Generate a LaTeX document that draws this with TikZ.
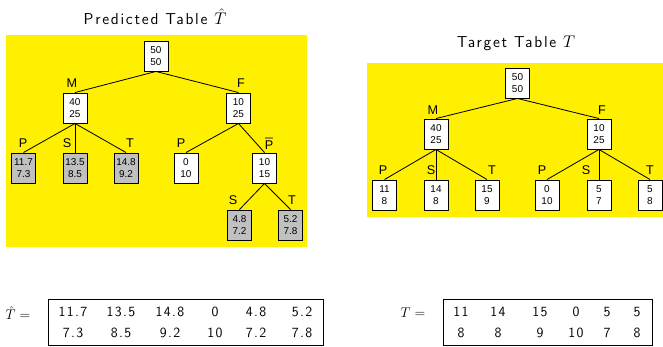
\documentclass[tikz,border=0pt]{standalone}
\usepackage{fontspec}
\newfontfamily\arialfont{Liberation Sans}
\newfontfamily\titlefont[LetterSpace=11]{Latin Modern Sans}
\newfontfamily\numfont[LetterSpace=10]{Latin Modern Sans}
\usepackage{xcolor}
\usetikzlibrary{positioning,calc}

\definecolor{tableyellow}{RGB}{255,240,0}
\definecolor{leafgray}{RGB}{192,192,192}
\definecolor{barcol}{RGB}{150,140,60}

\tikzset{
    cell/.style={draw, line width=0.8pt, fill=white, minimum width=0.72cm, minimum height=0.9cm,
        inner sep=0pt, align=center, font=\arialfont\fontsize{8.5}{10}\selectfont},
    leaf/.style={cell, fill=leafgray},
    branch/.style={inner sep=0pt, font=\arialfont\fontsize{10.8}{12}\selectfont},
    edge/.style={line width=0.7pt},
    title/.style={font=\titlefont\fontsize{13.5}{16}\selectfont},
    num/.style={inner sep=0pt, font=\numfont\fontsize{12}{14}\selectfont}
}

\begin{document}
\begin{tikzpicture}[x=0.03cm, y=-0.03cm]
    \useasboundingbox (0,0) rectangle (663,347);

    % Predicted table
    \fill[tableyellow] (6,35) rectangle (307,247);
    \node[title] (ptitle) at (155,17) {Predicted Table $\hat{T}$};

    \node[cell] (proot) at (156,56) {50\\50};
    \node[cell] (pm) at (75,108) {40\\25};
    \node[cell] (pf) at (238.5,108) {10\\25};
    \node[leaf] (pmp) at (23.5,168) {11.7\\7.3};
    \node[leaf] (pms) at (75,168) {13.5\\8.5};
    \node[leaf] (pmt) at (126,168) {14.8\\9.2};
    \node[cell] (pfp) at (186,168) {0\\10};
    \node[cell] (pfq) at (264.5,168) {10\\15};
    \node[leaf] (pfs) at (239.5,225) {4.8\\7.2};
    \node[leaf] (pft) at (290.5,225) {5.2\\7.8};

    \draw[edge] (proot.south) -- (pm.north);
    \draw[edge] (proot.south) -- (pf.north);
    \foreach \c in {pmp,pms,pmt} \draw[edge] (pm.south) -- (\c.north);
    \foreach \c in {pfp,pfq} \draw[edge] (pf.south) -- (\c.north);
    \foreach \c in {pfs,pft} \draw[edge] (pfq.south) -- (\c.north);

    \node[branch] (lpm) at (72,83) {M};
    \node[branch] (lpf) at (241,83) {F};
    \node[branch] (lpmp) at (23,143) {P};
    \node[branch] (lpms) at (67,143) {S};
    \node[branch] (lpmt) at (130,143) {T};
    \node[branch] (lpfp) at (181,143) {P};
    \node[branch] (lpfq) at (269,143) {\rlap{\textcolor{barcol}{\rule[8.4pt]{0.66em}{2pt}}}P};
    \node[branch] (lpfs) at (233,200) {S};
    \node[branch] (lpft) at (292,200) {T};

    % Target table
    \fill[tableyellow] (367,63) rectangle (663,217);
    \node[title] (ttitle) at (516,43) {Target Table $T$};

    \node[cell] (troot) at (517.5,83) {50\\50};
    \node[cell] (tm) at (436,134) {40\\25};
    \node[cell] (tf) at (599,134) {10\\25};
    \node[cell] (tmp) at (384.5,195) {11\\8};
    \node[cell] (tms) at (436,195) {14\\8};
    \node[cell] (tmt) at (487,195) {15\\9};
    \node[cell] (tfp) at (547,195) {0\\10};
    \node[cell] (tfs) at (599,195) {5\\7};
    \node[cell] (tft) at (650,195) {5\\8};

    \draw[edge] (troot.south) -- (tm.north);
    \draw[edge] (troot.south) -- (tf.north);
    \foreach \c in {tmp,tms,tmt} \draw[edge] (tm.south) -- (\c.north);
    \foreach \c in {tfp,tfs,tft} \draw[edge] (tf.south) -- (\c.north);

    \node[branch] (ltm) at (433,110) {M};
    \node[branch] (ltf) at (602,110) {F};
    \node[branch] (ltmp) at (383,170) {P};
    \node[branch] (ltms) at (431,170) {S};
    \node[branch] (ltmt) at (492,170) {T};
    \node[branch] (ltfp) at (542,170) {P};
    \node[branch] (ltfs) at (586,170) {S};
    \node[branch] (ltft) at (650,170) {T};

    % Vectors
    \node[num] (phat) at (18,313) {$\hat{T} =$};
    \draw[line width=0.8pt] (48,299) rectangle (323,345.8);
    \foreach \x/\a/\b [count=\i] in {73/11.7/7.3, 121/13.5/8.5, 170/14.8/9.2, 215/0/10, 256/4.8/7.2, 302/5.2/7.8} {
        \node[num] (pa\i) at (\x,312) {\a};
        \node[num] (pb\i) at (\x,333) {\b};
    }

    \node[num] (tvec) at (413,313) {$T =$};
    \draw[line width=0.8pt] (443,299) rectangle (652,345.8);
    \foreach \x/\a/\b [count=\i] in {461/11/8, 498/14/8, 540/15/9, 576/0/10, 607/5/7, 637/5/8} {
        \node[num] (ta\i) at (\x,312) {\a};
        \node[num] (tb\i) at (\x,333) {\b};
    }
\end{tikzpicture}
\end{document}
